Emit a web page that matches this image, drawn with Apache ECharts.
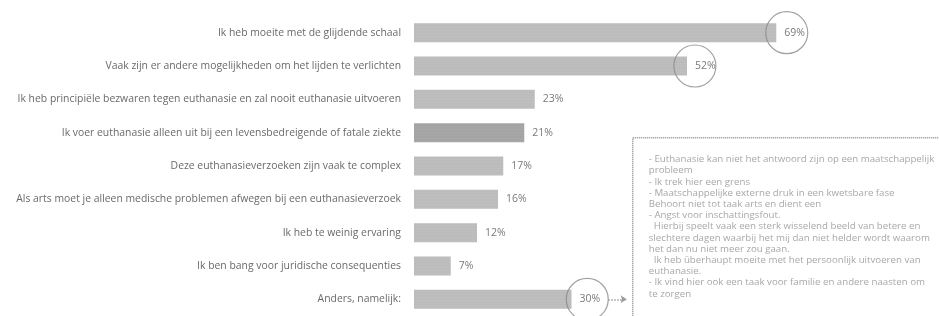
<!DOCTYPE html>
<html>
<head>
<meta charset="utf-8">
<script src="https://cdn.jsdelivr.net/npm/echarts@6/dist/echarts.min.js"></script>
<style>
  html, body { margin: 0; padding: 0; background: #fff; }
  #chart { width: 939px; height: 316px; }
</style>
</head>
<body>
<div id="chart"></div>
<script>
// data
var categories = [
  'Ik heb moeite met de glijdende schaal',
  'Vaak zijn er andere mogelijkheden om het lijden te verlichten',
  'Ik heb principiële bezwaren tegen euthanasie en zal nooit euthanasie uitvoeren',
  'Ik voer euthanasie alleen uit bij een levensbedreigende of fatale ziekte',
  'Deze euthanasieverzoeken zijn vaak te complex',
  'Als arts moet je alleen medische problemen afwegen bij een euthanasieverzoek',
  'Ik heb te weinig ervaring',
  'Ik ben bang voor juridische consequenties',
  'Anders, namelijk:'
]
var percentages = [69, 52, 23, 21, 17, 16, 12, 7, 30]
// where the hand-drawn circles sit (on the value axis), null = no circle
var circledAt = [71, 53.5, null, null, null, null, null, null, 33]

var otherAnswers = [
  '- Euthanasie kan niet het antwoord zijn op een maatschappelijk',
  'probleem',
  '- Ik trek hier een grens',
  '- Maatschappelijke externe druk in een kwetsbare fase',
  'Behoort niet tot taak arts en dient een',
  '- Angst voor inschattingsfout.',
  '  Hierbij speelt vaak een sterk wisselend beeld van betere en',
  'slechtere dagen waarbij het mij dan niet helder wordt waarom',
  'het dan nu niet meer zou gaan.',
  '  Ik heb überhaupt moeite met het persoonlijk uitvoeren van',
  'euthanasie.',
  '- Ik vind hier ook een taak voor familie en andere naasten om',
  'te zorgen'
]

var chart = echarts.init(document.getElementById('chart'))

var option = {
  animation: false,
  grid: { left: 414, top: 16, width: 540, height: 303 },
  xAxis: {
    type: 'value',
    min: 0,
    max: 100,
    show: false
  },
  yAxis: {
    type: 'category',
    inverse: true,
    data: categories,
    axisLine: { show: false },
    axisTick: { show: false },
    axisLabel: {
      margin: 13,
      color: '#6a6a6a',
      fontFamily: 'Open Sans',
      fontSize: 10.4
    }
  },
  series: [
    {
      type: 'bar',
      barWidth: 19,
      data: percentages.map(function (v, i) {
        return { value: v, itemStyle: { color: i === 3 ? '#a4a4a4' : '#bcbcbc' } }
      }),
      itemStyle: {
        decal: {
          symbol: 'rect',
          symbolSize: 0.5,
          dashArrayX: [1, 1],
          dashArrayY: [1, 2],
          color: 'rgba(255,255,255,0.35)'
        }
      },
      label: {
        show: true,
        position: 'right',
        distance: 8,
        formatter: '{c}%',
        color: '#7a7a7a',
        fontFamily: 'Open Sans',
        fontSize: 10.5
      }
    },
    {
      type: 'scatter',
      data: circledAt.map(function (v, i) { return v === null ? null : [v, categories[i]] }).filter(function (d) { return d }),
      symbol: 'circle',
      symbolSize: 42,
      itemStyle: { color: 'rgba(0,0,0,0)', borderColor: '#8a8a8a', borderWidth: 1.2 },
      silent: true,
      z: 3,
      markLine: {
        silent: true,
        symbol: ['none', 'arrow'],
        symbolSize: 6,
        lineStyle: { color: '#9a9a9a', type: 'dotted', width: 1.5 },
        label: { show: false },
        data: [[
          { coord: [37, categories[8]] },
          { coord: [40.5, categories[8]] }
        ]]
      }
    }
  ],
  graphic: [
    {
      type: 'group',
      left: 632,
      top: 137,
      children: [
        {
          type: 'rect',
          shape: { x: 0, y: 0, width: 320, height: 200 },
          style: { fill: '#fff', stroke: '#8c8c8c', lineWidth: 1.5, lineDash: [1, 1] }
        },
        {
          type: 'text',
          x: 16,
          y: 16,
          style: {
            text: otherAnswers.join('\n'),
            fill: '#a8a8a8',
            font: '9.7px "Open Sans"',
            lineHeight: 11.2
          }
        }
      ]
    }
  ]
}

chart.setOption(option)
</script>
</body>
</html>
